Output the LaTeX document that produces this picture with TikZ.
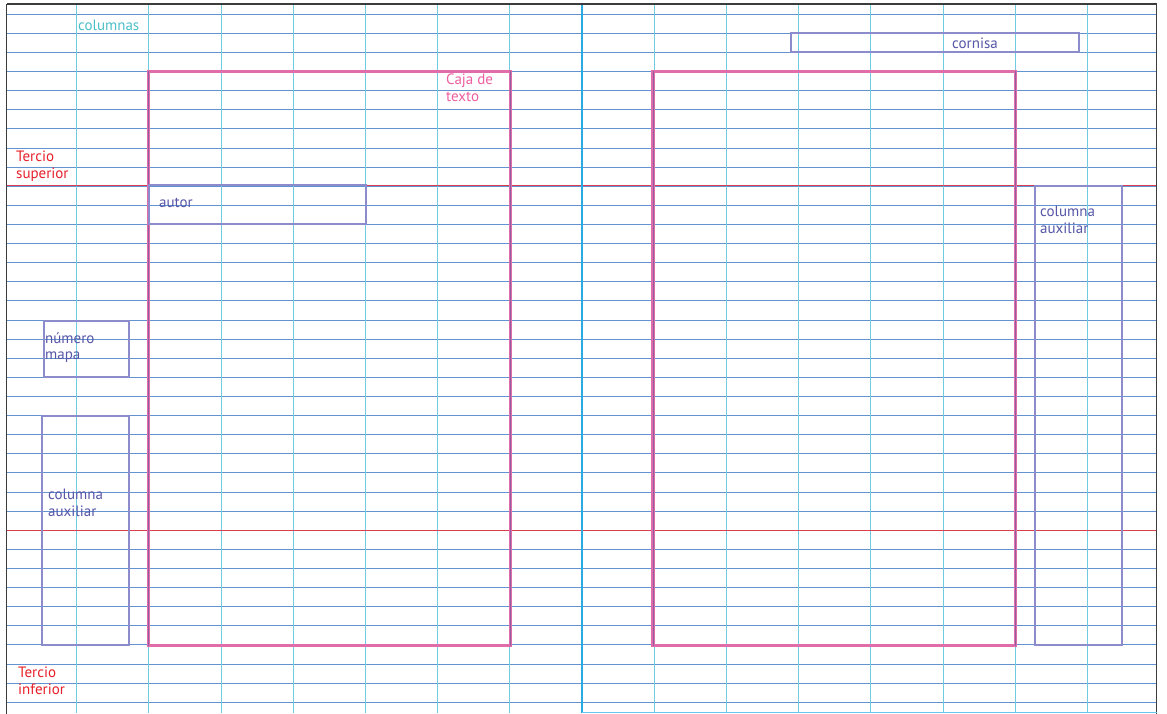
\documentclass[tikz,border=0pt]{standalone}
\usepackage{fontspec}
\setmainfont{PT Sans}
\definecolor{hblue}{RGB}{98,146,208}
\definecolor{vcyan}{RGB}{110,203,224}
\definecolor{cblue}{RGB}{42,170,226}
\definecolor{tred}{RGB}{217,64,79}
\definecolor{txtred}{RGB}{232,32,42}
\definecolor{boxpink}{RGB}{224,108,170}
\definecolor{boxpurp}{RGB}{146,96,160}
\definecolor{auxbox}{RGB}{140,140,204}
\definecolor{auxtxt}{RGB}{86,86,168}
\definecolor{coltxt}{RGB}{76,192,200}
\definecolor{cajatxt}{RGB}{238,95,160}
\definecolor{framegray}{RGB}{60,60,60}
\begin{document}
\begin{tikzpicture}[x=1pt,y=-1pt,
  hline/.style={draw=hblue,line width=1.5pt},
  vline/.style={draw=vcyan,line width=1.1pt},
  centerline/.style={draw=cblue,line width=2.6pt},
  tercio/.style={draw=tred,line width=1.5pt},
  framestyle/.style={draw=framegray,line width=1.4pt},
  textbox/.style={draw=boxpink,line width=3.2pt},
  textboxin/.style={draw=boxpurp,line width=1pt},
  auxstyle/.style={draw=auxbox,line width=2pt},
  lbl/.style={inner sep=0pt,align=left,anchor=north west,font=\fontsize{15}{16.5}\selectfont},
]
\useasboundingbox (0,0) rectangle (1167,714);
\fill[white] (0,0) rectangle (1167,714);
% horizontal grid lines
\foreach \i in {0,...,36}{
  \pgfmathsetmacro{\yy}{floor(14.3+19.11*\i)+0.5}
  \draw[hline] (6.7,\yy) -- (1156.7,\yy);
}
% vertical grid lines (columns)
\foreach \k in {0,...,6,8,9,...,14}{
  \pgfmathsetmacro{\xx}{floor(76.7+72.2*\k)+0.5}
  \draw[vline] (\xx,4) -- (\xx,713);
}
% tercio lines
\draw[tercio] (6.7,185.5) -- (1156.7,185.5);
\draw[tercio] (6.7,530.5) -- (1156.7,530.5);
% page centre
\draw[centerline] (582,4) -- (582,713);
% frame
\draw[framestyle] (6.7,4) -- (1156.7,4);
\draw[framestyle] (6.7,4) -- (6.7,713.5);
\draw[framestyle] (1156.7,4) -- (1156.7,713.5);
\draw[draw=cblue!70,line width=1.2pt] (582,712.8) -- (1156.7,712.8);
% text boxes
\draw[textbox] (148.5,71.5) rectangle (510.5,645.5);
\draw[textboxin] (148.5,71.5) -- (148.5,645.5) (510.5,71.5) -- (510.5,645.5);
\draw[textbox] (653,71.5) rectangle (1015.5,645.5);
\draw[textboxin] (653,71.5) -- (653,645.5) (1015.5,71.5) -- (1015.5,645.5);
% auxiliary boxes
\draw[auxstyle] (790.5,33.5) rectangle (1078.5,52.5);
\draw[auxstyle] (148.5,185.5) rectangle (366,224.5);
\draw[auxstyle] (43.8,320.5) rectangle (129.3,376.5);
\draw[auxstyle] (41.5,415.5) rectangle (129.3,645.0);
\draw[auxstyle] (1034.5,186.5) rectangle (1122.3,645.0);
% labels
\node[lbl,text=coltxt] (columnas) at (78,20) {columnas};
\node[lbl,text=txtred] (tsup) at (16,151) {Tercio\\superior};
\node[lbl,text=cajatxt] (caja) at (446,74) {Caja de\\texto};
\node[lbl,text=txtred] (tinf) at (18,667) {Tercio\\inferior};
\node[lbl,text=auxtxt,anchor=center] (cornisa) at (975,43) {cornisa};
\node[lbl,text=auxtxt] (autor) at (159,198) {autor};
\node[lbl,text=auxtxt] (mapa) at (45,332) {número\\mapa};
\node[lbl,text=auxtxt] (auxl) at (48,489) {columna\\auxiliar};
\node[lbl,text=auxtxt] (auxr) at (1040,206) {columna\\auxiliar};
\end{tikzpicture}
\end{document}
